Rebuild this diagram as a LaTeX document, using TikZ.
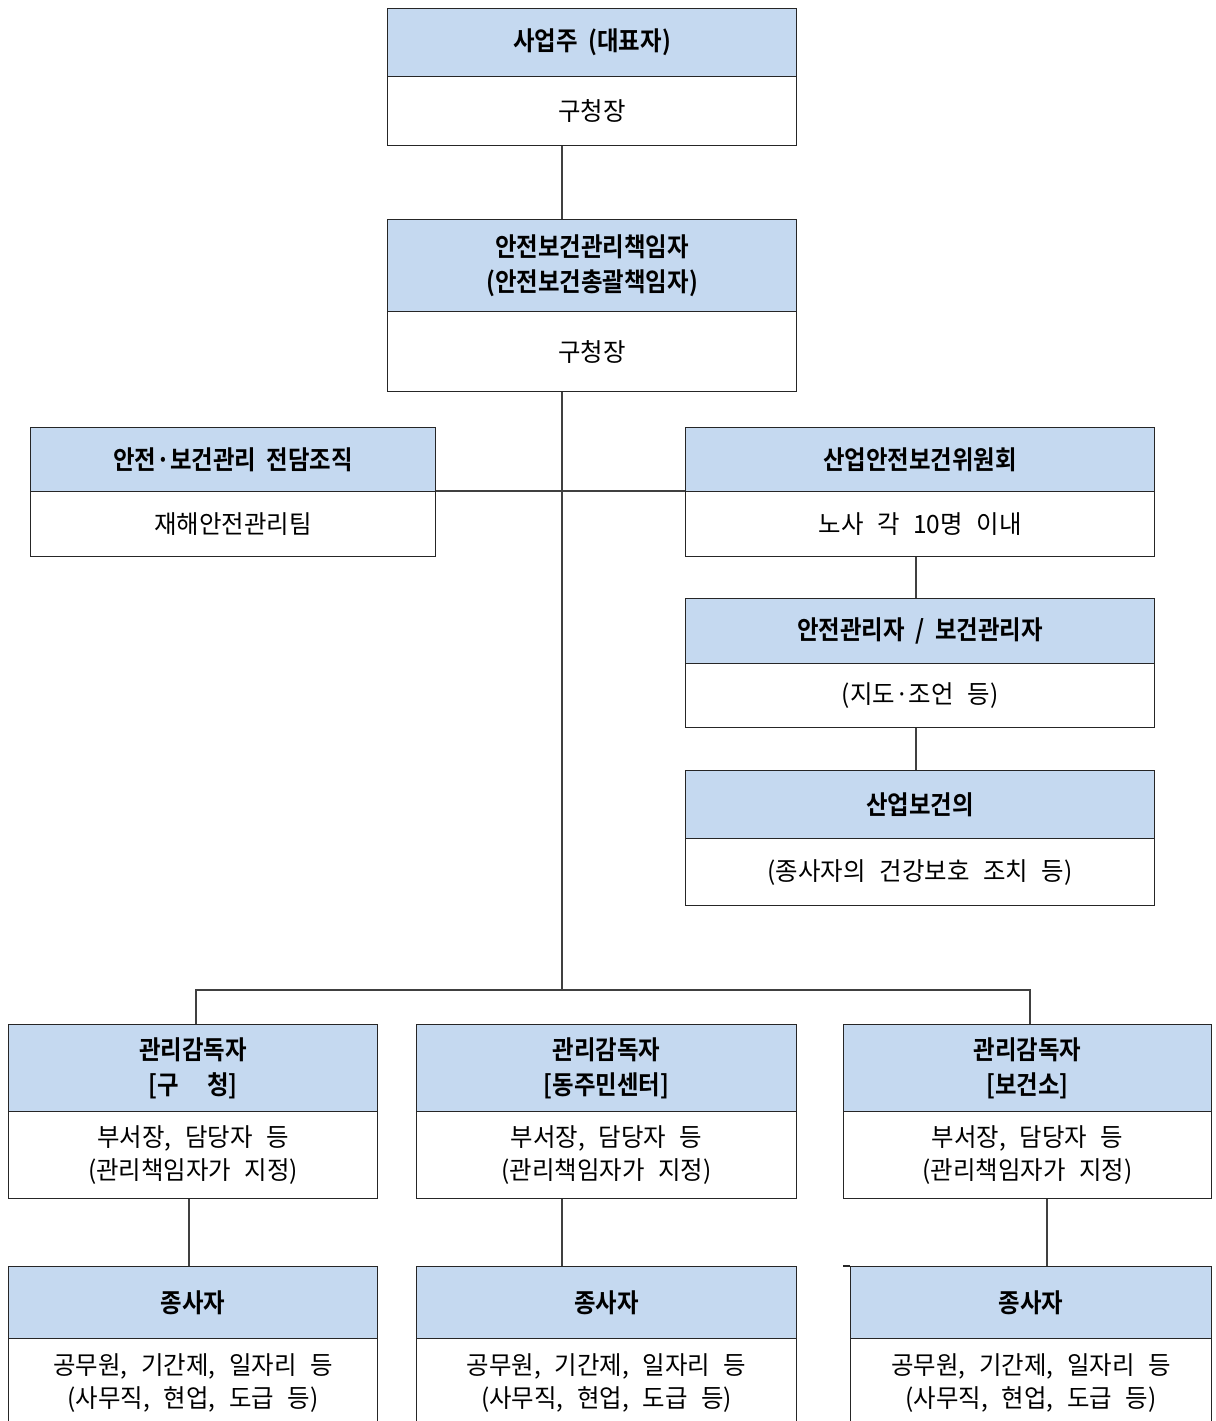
\documentclass[tikz,border=0pt]{standalone}
\usepackage{fontspec}
\newfontfamily\krh[FakeStretch=0.9,WordSpace=2.0]{Noto Sans CJK KR Bold}
\newfontfamily\kr[FakeStretch=0.97,WordSpace=2.5]{Noto Sans CJK KR}
\definecolor{hdrblue}{RGB}{197,217,240}
\tikzset{
  boxline/.style={draw=black!85, line width=0.65pt},
  hdr/.style={boxline, fill=hdrblue, inner sep=0pt, anchor=north west, align=center,
    font=\krh\fontsize{13}{17.5}\selectfont},
  bdy/.style={boxline, fill=white, inner sep=0pt, anchor=north west, align=center,
    font=\kr\fontsize{12.6}{16.5}\selectfont},
  conn/.style={draw=black!75, line width=0.55pt}
}
% name, x1, y1, ymid, x2, y2, header, body
\newcommand\orgbox[8]{%
  \node[hdr, minimum width={(#5-#2)*0.5pt}, minimum height={(#4-#3)*0.5pt}] (h#1) at (#2,#3) {#7};
  \node[bdy, minimum width={(#5-#2)*0.5pt}, minimum height={(#6-#4)*0.5pt}] (b#1) at (#2,#4) {#8};
}
\begin{document}
\begin{tikzpicture}[x=0.5pt,y=-0.5pt]
\clip (0,0) rectangle (1216,1421);
\fill[white] (0,0) rectangle (1216,1421);
\orgbox{1}{387}{8}{76}{796}{145}{사업주 (대표자)}{구청장}
\orgbox{2}{387}{219}{311}{796}{391}{안전보건관리책임자\\(안전보건총괄책임자)}{구청장}
\orgbox{3}{30}{427}{491}{435}{556}{안전·보건관리 전담조직}{재해안전관리팀}
\orgbox{4}{685}{427}{491}{1154}{556}{산업안전보건위원회}{노사 각 10명 이내}
\orgbox{5}{685}{598}{663}{1154}{727}{안전관리자 / 보건관리자}{(지도·조언 등)}
\orgbox{6}{685}{770}{838}{1154}{905}{산업보건의}{(종사자의 건강보호 조치 등)}
\orgbox{7}{8}{1024}{1111}{377}{1198}{관리감독자\\{[}구\hspace{1.1em}청{]}}{부서장, 담당자 등\\(관리책임자가 지정)}
\orgbox{8}{416}{1024}{1111}{796}{1198}{관리감독자\\{[}동주민센터{]}}{부서장, 담당자 등\\(관리책임자가 지정)}
\orgbox{9}{843}{1024}{1111}{1211}{1198}{관리감독자\\{[}보건소{]}}{부서장, 담당자 등\\(관리책임자가 지정)}
\orgbox{10}{8}{1266}{1338}{377}{1426}{종사자}{공무원, 기간제, 일자리 등\\(사무직, 현업, 도급 등)}
\orgbox{11}{416}{1266}{1338}{796}{1426}{종사자}{공무원, 기간제, 일자리 등\\(사무직, 현업, 도급 등)}
\orgbox{12}{850}{1266}{1338}{1211}{1426}{종사자}{공무원, 기간제, 일자리 등\\(사무직, 현업, 도급 등)}
\coordinate (spine) at (562,0);
\coordinate (split) at (562,990);
\coordinate (rc) at (916,0);
\coordinate (stub) at (843,1266);
\draw[conn] (b1.south -| spine) -- (h2.north -| spine);
\draw[conn] (b2.south -| spine) -- (split);
\draw[conn] (b3.north east) -- (b4.north west);
\draw[conn] (b4.south -| rc) -- (h5.north -| rc);
\draw[conn] (b5.south -| rc) -- (h6.north -| rc);
\draw[conn] (h7.north -| 196,0) |- (split) -| (h9.north -| 1030,0);
\draw[conn] (b7.south -| 189,0) -- (h10.north -| 189,0);
\draw[conn] (b8.south -| spine) -- (h11.north -| spine);
\draw[conn] (b9.south -| 1047,0) -- (h12.north -| 1047,0);
\draw[boxline] (stub) -- (h12.north west);
\end{tikzpicture}
\end{document}
